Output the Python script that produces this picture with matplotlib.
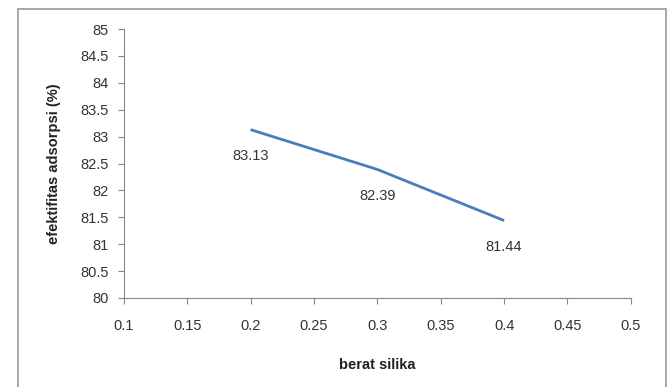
import matplotlib.pyplot as plt
from matplotlib.patches import Rectangle

# data
berat_silika = [0.2, 0.3, 0.4]
efektifitas = [83.13, 82.39, 81.44]
label_teks = ["83.13", "82.39", "81.44"]

plt.rcParams['font.family'] = ['Liberation Sans', 'DejaVu Sans']

fig = plt.figure(figsize=(6.69, 3.87), dpi=100)
ax = fig.add_axes([0.185, 0.23, 0.758, 0.695])

ax.plot(berat_silika, efektifitas, color="#4a7ebb", linewidth=2.0, solid_capstyle="butt")
for x, y, t in zip(berat_silika, efektifitas, label_teks):
    ax.annotate(t, (x, y), xytext=(0, -19), textcoords="offset points",
                ha="center", va="center", fontsize=10.5, color="#333333")

ax.set_xlim(0.1, 0.5)
ax.set_ylim(80, 85)
ax.set_xticks([0.1, 0.15, 0.2, 0.25, 0.3, 0.35, 0.4, 0.45, 0.5])
ax.set_xticklabels(["0.1", "0.15", "0.2", "0.25", "0.3", "0.35", "0.4", "0.45", "0.5"])
ax.set_yticks([80, 80.5, 81, 81.5, 82, 82.5, 83, 83.5, 84, 84.5, 85])
ax.set_yticklabels(["80", "80.5", "81", "81.5", "82", "82.5", "83", "83.5", "84", "84.5", "85"])

for s in ["top", "right"]:
    ax.spines[s].set_visible(False)
for s in ["left", "bottom"]:
    ax.spines[s].set_color("#888888")
    ax.spines[s].set_linewidth(0.8)
ax.tick_params(colors="#888888", labelcolor="#333333", labelsize=10.5, length=4, width=0.8)
ax.tick_params(axis="x", pad=11)
ax.tick_params(axis="y", pad=7)

ax.set_xlabel("berat silika", fontsize=10.5, fontweight="bold", labelpad=18, color="#222222")
ax.set_ylabel("efektifitas adsorpsi (%)", fontsize=10.5, fontweight="bold", labelpad=14, color="#222222")

# bingkai luar
fig.patches.append(Rectangle((0.027, -0.02), 0.968, 0.997, transform=fig.transFigure,
                             fill=False, edgecolor="#999999", linewidth=1.2))

fig.savefig("out.png", dpi=100)
